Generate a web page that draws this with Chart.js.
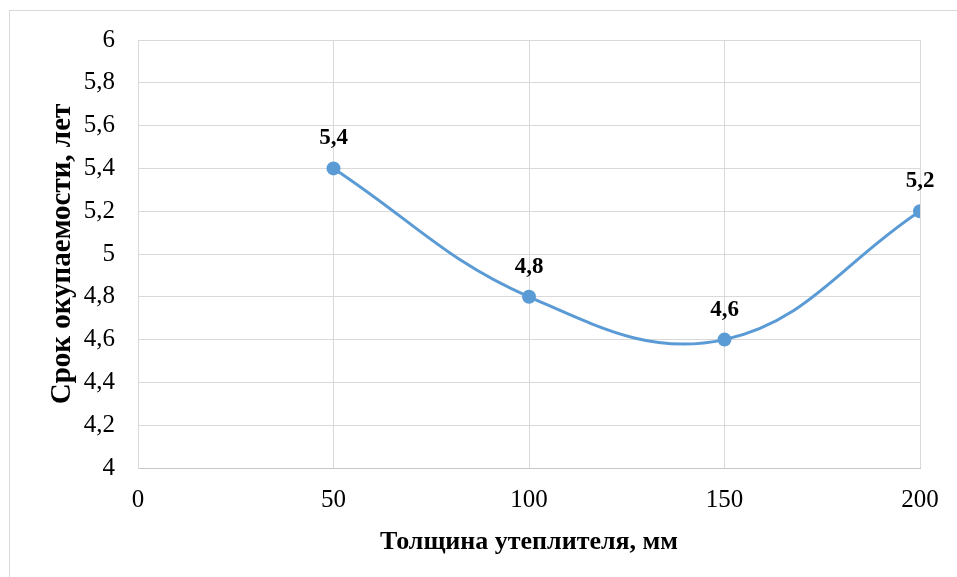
<!DOCTYPE html>
<html>
<head>
<meta charset="utf-8">
<script src="https://cdn.jsdelivr.net/npm/chart.js@4.4.0/dist/chart.umd.min.js"></script>
<style>
  html, body { margin: 0; padding: 0; background: #fff; overflow: hidden; }
  #frame { position: absolute; left: 9px; top: 10px; width: 1000px; height: 600px; border: 1px solid #d9d9d9; box-sizing: border-box; }
  #wrap { position: absolute; left: 0; top: 0; width: 957px; height: 577px; }
</style>
</head>
<body>
<div id="frame"></div>
<div id="wrap"><canvas id="c" width="957" height="577"></canvas></div>
<script>
const thickness = [50, 100, 150, 200];
const payback = [5.4, 4.8, 4.6, 5.2];
const xTitle = 'Толщина утеплителя, мм';
const yTitle = 'Срок окупаемости, лет';

const FONT = '"Liberation Serif", "Times New Roman", serif';
const fmt = v => String(Math.round(v * 10) / 10).replace('.', ',');

const labelPlugin = {
  id: 'pointLabels',
  afterDatasetsDraw(chart) {
    const ctx = chart.ctx;
    const meta = chart.getDatasetMeta(0);
    ctx.save();
    ctx.font = 'bold 23px ' + FONT;
    ctx.fillStyle = '#000';
    ctx.textAlign = 'center';
    ctx.textBaseline = 'middle';
    meta.data.forEach((el, i) => {
      ctx.fillText(fmt(payback[i]), el.x, el.y - 30);
    });
    ctx.restore();
  }
};

new Chart(document.getElementById('c'), {
  type: 'line',
  data: {
    datasets: [{
      data: thickness.map((x, i) => ({ x: x, y: payback[i] })),
      borderColor: '#5B9BD5',
      backgroundColor: '#5B9BD5',
      borderWidth: 3,
      pointRadius: 7,
      pointHoverRadius: 7,
      pointBorderWidth: 0,
      tension: 0.4,
      fill: false
    }]
  },
  options: {
    responsive: false,
    animation: false,
    events: [],
    layout: { padding: { left: 45, right: 37, top: 40, bottom: 0 } },
    plugins: { legend: { display: false }, tooltip: { enabled: false } },
    scales: {
      x: {
        type: 'linear',
        min: 0, max: 200,
        ticks: { stepSize: 50, color: '#000', font: { family: FONT, size: 25 }, padding: 17, maxRotation: 0 },
        grid: { color: '#d9d9d9', drawTicks: false },
        border: { color: '#c6c6c6' },
        title: { display: true, text: xTitle, color: '#000', font: { family: FONT, size: 26, weight: 'bold' }, padding: { top: 11, bottom: 19 } },
        afterFit(s) { s.height = 109; }
      },
      y: {
        min: 4, max: 6,
        ticks: { stepSize: 0.2, color: '#000', font: { family: FONT, size: 25 }, padding: 23, callback: v => fmt(v) },
        grid: { color: '#d9d9d9', drawTicks: false },
        border: { color: '#d9d9d9' },
        title: { display: true, text: yTitle, color: '#000', font: { family: FONT, size: 29, weight: 'bold' }, padding: { top: 0, bottom: 0 } },
        afterFit(s) { s.width = 93; }
      }
    }
  },
  plugins: [labelPlugin]
});
</script>
</body>
</html>
